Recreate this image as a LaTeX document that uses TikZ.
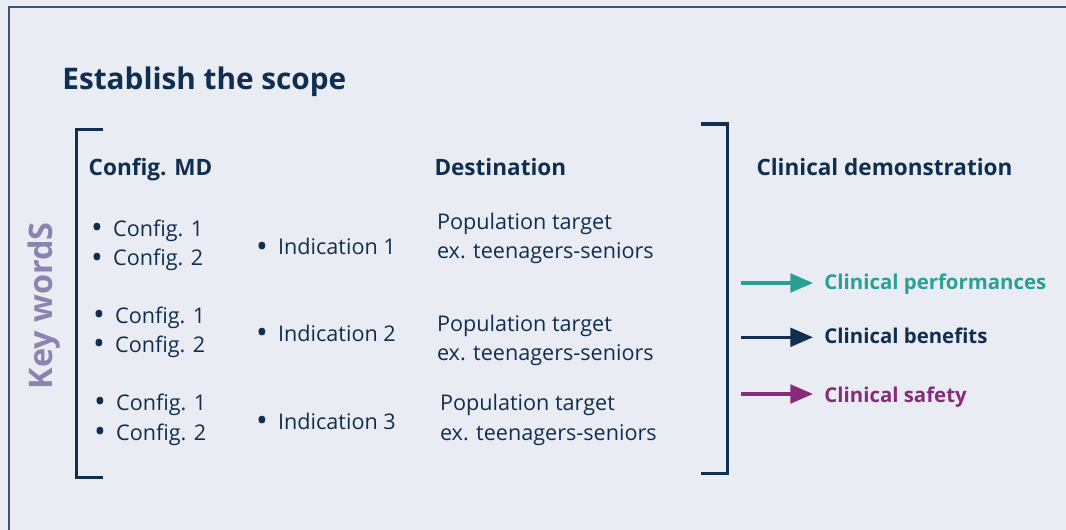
\documentclass[tikz,border=0pt]{standalone}
\usepackage{fontspec}
\setmainfont{Open Sans}
\usetikzlibrary{arrows.meta,positioning}
\definecolor{scopenavy}{RGB}{16,46,80}
\definecolor{scopebg}{RGB}{233,236,243}
\definecolor{scopeframe}{RGB}{68,82,110}
\definecolor{scopeteal}{RGB}{42,160,148}
\definecolor{scopepurple}{RGB}{138,42,122}
\definecolor{scopelavender}{RGB}{140,132,176}
\tikzset{
    textbase/.style={
        inner sep=0pt,
        outer sep=0pt,
        anchor=base west,
        text=scopenavy,
        align=left
    },
    titlenode/.style={textbase, font=\fontsize{22.3}{26}\selectfont\bfseries},
    headnode/.style={textbase, font=\fontsize{16.9}{20}\selectfont\bfseries},
    itemnode/.style={textbase, font=\fontsize{16.2}{21.9}\selectfont},
    sidenode/.style={textbase, rotate=90, text=scopelavender, font=\fontsize{24.3}{28}\selectfont\bfseries},
    outcomenode/.style={textbase, anchor=west, outer sep=8.6pt, text height=12.4pt, text depth=3pt,
        font=\fontsize{15.3}{18}\selectfont\bfseries},
    bracket/.style={draw=scopenavy, line width=2.6pt},
    outcome/.style={-{Triangle[length=17pt,width=14pt]}, line width=2.4pt},
}
% bullet mark used in the item lists
\newcommand{\bul}{\raisebox{-0.1em}{\scalebox{1.45}{•}}\hspace{0.48em}}

\begin{document}
\begin{tikzpicture}[x=0.75pt, y=-0.75pt]
    % Background and frame
    \fill[scopebg] (0,0) rectangle (1066,530);
    \useasboundingbox (0,0) rectangle (1066,530);
    \draw[scopeframe, line width=1.5pt] (1066,7.5) -- (9,7.5) -- (9,530);

    % Title and side label
    \node[titlenode] (title) at (62.4,90) {Establish the scope};
    \node[sidenode] (keywords) at (52,389.5) {Key wordS};

    % Column headings
    \node[headnode] (cfghead) at (88.7,176) {Config. MD};
    \node[headnode] (desthead) at (434.5,176) {Destination};
    \node[headnode] (clinhead) at (756.5,176) {Clinical demonstration};

    % Configurations (base = last line)
    \node[itemnode] (cfgone) at (91,266) {\bul Config. 1\\\bul Config. 2};
    \node[itemnode] (cfgtwo) at (93,352.7) {\bul Config. 1\\\bul Config. 2};
    \node[itemnode] (cfgthree) at (94,440) {\bul Config. 1\\\bul Config. 2};

    % Indications
    \node[itemnode] (indone) at (256,255) {\bul Indication 1};
    \node[itemnode] (indtwo) at (256,341.7) {\bul Indication 2};
    \node[itemnode] (indthree) at (256,429) {\bul Indication 3};

    % Population targets
    \node[itemnode] (popone) at (437,258.3) {Population target\\ex. teenagers-seniors};
    \node[itemnode] (poptwo) at (437,361) {Population target\\ex. teenagers-seniors};
    \node[itemnode] (popthree) at (440,440) {Population target\\ex. teenagers-seniors};

    % Brackets
    \draw[bracket] (103,129.5) -- (76.5,129.5) -- (76.5,477.5) -- (103,477.5);
    \draw[bracket] (701,124) -- (727.3,124) -- (727.3,473.5) -- (701,473.5);

    % Outcomes
    \coordinate (perfstart) at (741,283);
    \coordinate (benefitstart) at (741,337.3);
    \coordinate (safetystart) at (741,394);
    \node[outcomenode, text=scopeteal, right=54pt of perfstart] (perf) {Clinical performances};
    \node[outcomenode, right=54pt of benefitstart] (benefit) {Clinical benefits};
    \node[outcomenode, text=scopepurple, right=54pt of safetystart, yshift=-1.5pt] (safety) {Clinical safety};
    \draw[outcome, scopeteal] (perfstart) -- (perf);
    \draw[outcome, scopenavy] (benefitstart) -- (benefit);
    \draw[outcome, scopepurple] (safetystart) -- (safetystart -| safety.west);
\end{tikzpicture}
\end{document}
